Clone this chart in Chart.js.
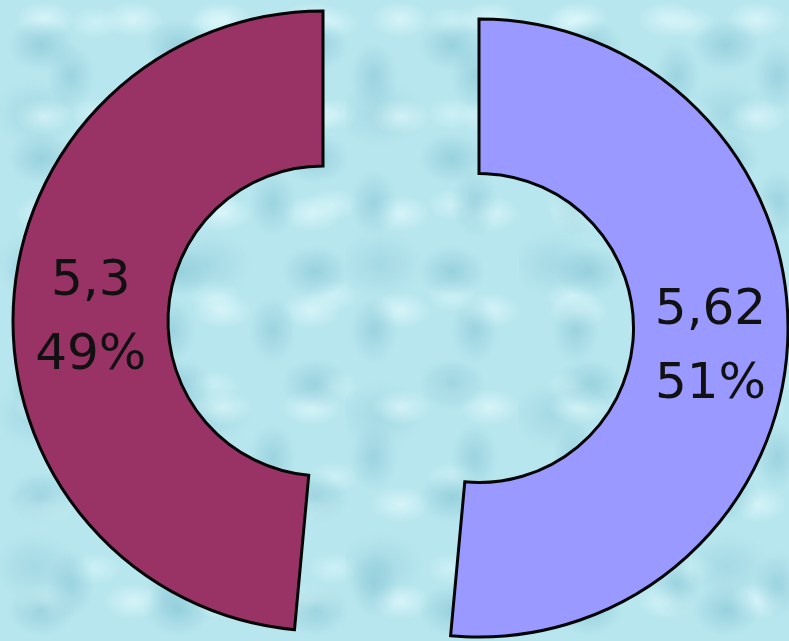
<!DOCTYPE html>
<html>
<head>
<meta charset="utf-8">
<script src="https://cdn.jsdelivr.net/npm/chart.js@4"></script>
<style>
  html, body { margin: 0; padding: 0; }
  body {
    width: 789px;
    height: 641px;
    overflow: hidden;
    background-color: #b8e6ee;
    background-image:
      radial-gradient(ellipse 34px 26px at 30% 40%, rgba(125,192,208,0.55), rgba(125,192,208,0) 100%),
      radial-gradient(ellipse 24px 34px at 70% 60%, rgba(120,188,205,0.45), rgba(120,188,205,0) 100%),
      radial-gradient(ellipse 30px 18px at 50% 20%, rgba(228,251,253,0.65), rgba(228,251,253,0) 100%),
      radial-gradient(ellipse 44px 34px at 20% 75%, rgba(135,198,212,0.4), rgba(135,198,212,0) 100%),
      radial-gradient(ellipse 26px 16px at 80% 25%, rgba(220,249,251,0.55), rgba(220,249,251,0) 100%);
    background-size: 137px 113px, 101px 127px, 89px 97px, 173px 151px, 119px 91px;
  }
  .camada { position: absolute; left: 0; top: 0; width: 789px; height: 641px; }
</style>
</head>
<body>
<div class="camada"><canvas id="fatiaDireita"></canvas></div>
<div class="camada"><canvas id="fatiaEsquerda"></canvas></div>
<script>
// valores na ordem em que o Excel desenha (a partir do topo, sentido horario)
const valores = [5.62, 5.3];
const rotulos = ["5,62", "5,3"];
const cores = ["#9999FF", "#993366"];

const total = valores.reduce((a, b) => a + b, 0);
const porcentagens = valores.map(v => Math.round(v / total * 100) + "%");

// escreve valor e porcentagem no meio da fatia visivel
function pluginRotulo(indice) {
  return {
    id: "rotulo" + indice,
    afterDatasetsDraw(chart) {
      const ctx = chart.ctx;
      const arco = chart.getDatasetMeta(0).data[indice];
      const p = arco.getProps(["x", "y", "startAngle", "endAngle", "innerRadius", "outerRadius"], true);
      const meio = (p.innerRadius + p.outerRadius) / 2;
      const ang = (p.startAngle + p.endAngle) / 2;
      const cx = p.x + Math.cos(ang) * meio;
      const cy = p.y + Math.sin(ang) * meio + 4;
      ctx.save();
      ctx.fillStyle = "#111";
      ctx.font = "50px 'DejaVu Sans'";
      ctx.textAlign = "center";
      ctx.textBaseline = "alphabetic";
      ctx.fillText(rotulos[indice], cx, cy - 19);
      ctx.fillText(porcentagens[indice], cx, cy + 55);
      ctx.restore();
    }
  };
}

// cada fatia destacada fica num grafico proprio, com o centro deslocado
function criarFatia(idCanvas, indice, raio, padding) {
  return new Chart(document.getElementById(idCanvas), {
    type: "doughnut",
    data: {
      labels: rotulos,
      datasets: [{
        data: valores,
        backgroundColor: cores.map((c, i) => i === indice ? c : "rgba(0,0,0,0)"),
        borderColor: "#050505",
        borderWidth: valores.map((v, i) => i === indice ? 3 : 0),
        borderJoinStyle: "miter",
        hoverOffset: 0
      }]
    },
    options: {
      responsive: true,
      maintainAspectRatio: false,
      animation: false,
      radius: raio,
      cutout: "50%",
      layout: { padding: padding },
      plugins: {
        legend: { display: false },
        tooltip: { enabled: false }
      }
    },
    plugins: [pluginRotulo(indice)]
  });
}

criarFatia("fatiaDireita", 0, 309, { left: 169, right: 0, top: 15, bottom: 0 });
criarFatia("fatiaEsquerda", 1, 310, { left: 0, right: 143, top: 1, bottom: 0 });
</script>
</body>
</html>
